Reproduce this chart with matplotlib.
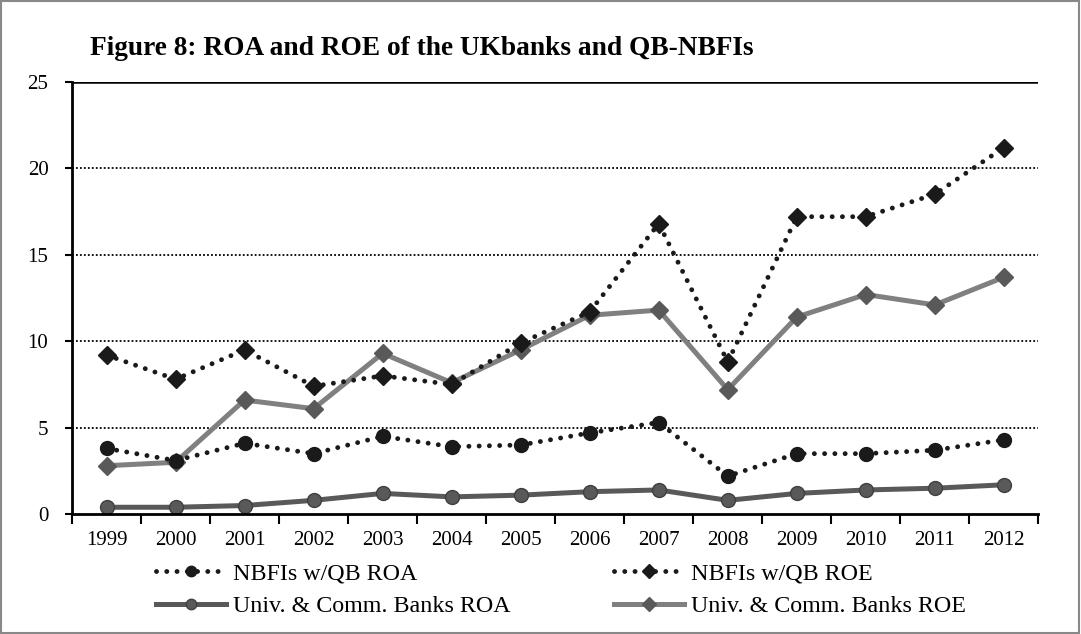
import numpy as np
import matplotlib.pyplot as plt
from matplotlib.patches import Rectangle

years = [str(y) for y in range(1999, 2013)]
nbfi_roa = [3.8, 3.1, 4.1, 3.5, 4.5, 3.9, 4.0, 4.7, 5.3, 2.2, 3.5, 3.5, 3.7, 4.3]
nbfi_roe = [9.2, 7.8, 9.5, 7.4, 8.0, 7.5, 9.9, 11.7, 16.8, 8.8, 17.2, 17.2, 18.5, 21.2]
univ_roa = [0.4, 0.4, 0.5, 0.8, 1.2, 1.0, 1.1, 1.3, 1.4, 0.8, 1.2, 1.4, 1.5, 1.7]
univ_roe = [2.8, 3.0, 6.6, 6.1, 9.3, 7.6, 9.5, 11.5, 11.8, 7.2, 11.4, 12.7, 12.1, 13.7]

plt.rcParams['font.family'] = ['Liberation Serif', 'DejaVu Serif']

fig = plt.figure(figsize=(10.81, 6.34), dpi=100)
ax = fig.add_axes([0.0666, 0.189, 0.894, 0.682])

x = np.arange(len(years)) + 0.5

# gridlines (Excel style dotted)
for g in [5, 10, 15, 20]:
    ax.axhline(g, color='black', lw=1.3, ls=(0, (1, 1.2)), zorder=0)
ax.axhline(25, color='black', lw=1.8, zorder=0)

dots = (0, (0.01, 2.1))  # round dots, ~10px apart
ax.plot(x, univ_roa, color='#595959', lw=3.6, marker='o', ms=10,
        mfc='#595959', mec='#404040', label='Univ. & Comm. Banks ROA', zorder=2)
ax.plot(x, univ_roe, color='#808080', lw=3.6, marker='D', ms=9,
        mfc='#595959', mec='#595959', label='Univ. & Comm. Banks ROE', zorder=2)
ax.plot(x, nbfi_roa, color='#1a1a1a', lw=3.5, ls=dots, dash_capstyle='round',
        marker='o', ms=10, mfc='#1a1a1a', mec='#1a1a1a', label='NBFIs w/QB ROA', zorder=3)
ax.plot(x, nbfi_roe, color='#1a1a1a', lw=3.5, ls=dots, dash_capstyle='round',
        marker='D', ms=9, mfc='#1a1a1a', mec='#1a1a1a', label='NBFIs w/QB ROE', zorder=3)

ax.set_xlim(0, len(years))
ax.set_ylim(0, 25)
ax.set_yticks([0, 5, 10, 15, 20, 25])
ax.set_xticks(np.arange(len(years) + 1))
ax.set_xticklabels([])
ax.set_xticks(x, minor=True)
ax.set_xticklabels(years, minor=True)
ax.tick_params(axis='x', which='minor', length=0, labelsize=15, pad=12)
ax.tick_params(axis='x', which='major', direction='out', length=7, width=1.5)
ax.tick_params(axis='y', direction='out', length=5, width=1.5, labelsize=15, pad=12)

for s in ['top', 'right']:
    ax.spines[s].set_visible(False)
ax.spines['left'].set_linewidth(2)
ax.spines['bottom'].set_linewidth(2)

# legend: column-major order -> NBFI ROA, Univ ROA | NBFI ROE, Univ ROE
h, l = ax.get_legend_handles_labels()
order = [2, 0, 3, 1]
fig.legend([h[i] for i in order], [l[i] for i in order], ncol=2,
           loc='center', bbox_to_anchor=(0.519, 0.069), frameon=False,
           fontsize=17.3, handlelength=2.9, columnspacing=4.3, labelspacing=0.45,
           handletextpad=0.3, markerscale=0.75)

fig.text(0.083, 0.924, 'Figure 8: ROA and ROE of the UKbanks and QB-NBFIs',
         fontsize=19.7, fontweight='bold', ha='left', va='center')

fig.patches.append(Rectangle((0.001, 0.001), 0.997, 0.997, transform=fig.transFigure,
                             fill=False, edgecolor='#888888', lw=1.5))

fig.savefig('out.png', dpi=100)
